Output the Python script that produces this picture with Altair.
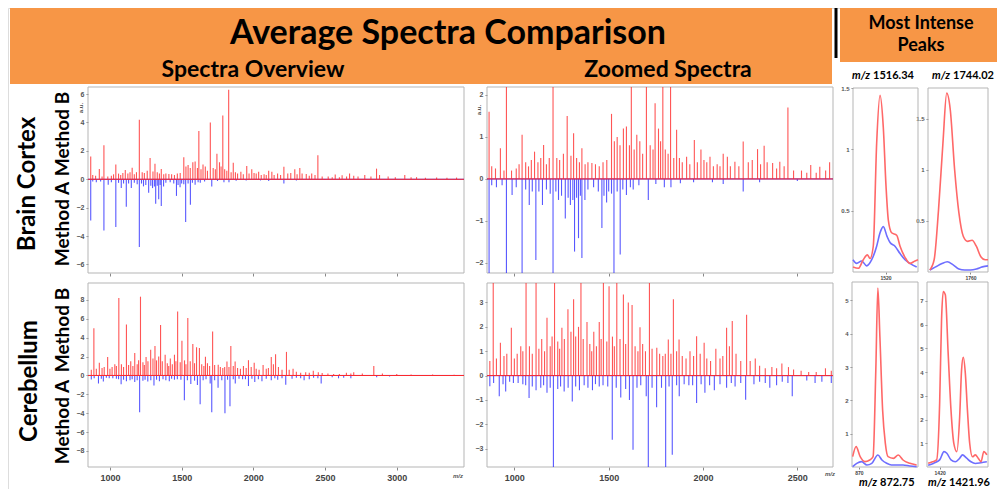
import altair as alt
import pandas as pd

# ---------------- texts ----------------
TITLE = "Average Spectra Comparison"
COL_TITLES = ["Spectra Overview", "Zoomed Spectra"]
PEAK_HEADER = ["Most Intense", "Peaks"]
ROWS = ["Brain Cortex", "Cerebellum"]
METHODS = ["Method B", "Method A"]
PEAK_LABELS = ["1516.34", "1744.02", "872.75", "1421.96"]

# ---------------- spectra (m/z, intensity a.u.) ----------------
# Brain Cortex - Method B (positive, red)
bc_b_mz = [866, 880, 900, 926, 945, 958, 985, 1010, 1025, 1041, 1060, 1075, 1090, 1107, 1125, 1140, 1155,
           1170, 1185, 1205, 1225, 1240, 1260, 1280, 1300, 1314, 1330, 1345, 1358, 1375, 1390, 1411, 1430,
           1450, 1470, 1490, 1515, 1530, 1545, 1560, 1578, 1594, 1610, 1620, 1635, 1649, 1665, 1680, 1700,
           1720, 1735, 1746, 1764, 1775, 1787, 1800, 1815, 1828, 1845, 1860, 1875, 1890, 1913, 1930, 1954,
           1970, 1989, 2005, 2020, 2037, 2055, 2075, 2090, 2107, 2129, 2145, 2169, 2190, 2213, 2240, 2261,
           2289, 2305, 2324, 2340, 2369, 2390, 2407, 2430, 2450, 2480, 2522, 2550, 2571, 2600, 2619, 2650,
           2671, 2700, 2730, 2777, 2820, 2859, 2880, 2940, 2990, 3056, 3100, 3138, 3200, 3278, 3350, 3417]
bc_b_int = [1.6, 0.3, 0.25, 0.73, 0.2, 2.4, 0.2, 0.25, 0.35, 1.05, 0.4, 0.3, 0.45, 0.65, 0.4, 0.5, 0.81,
            0.35, 0.5, 4.2, 0.5, 0.45, 0.6, 1.5, 0.55, 1.09, 0.5, 0.4, 0.73, 0.35, 0.4, 0.38, 0.35,
            0.3, 0.4, 0.45, 1.55, 0.9, 1.0, 0.8, 1.2, 1.25, 0.8, 3.4, 0.7, 1.05, 0.9, 0.6, 4.0,
            0.8, 0.7, 1.8, 1.2, 0.9, 4.5, 0.7, 0.6, 6.3, 0.5, 1.17, 0.5, 0.4, 0.53, 0.35, 0.93,
            0.4, 0.7, 0.45, 0.4, 0.53, 0.3, 0.35, 0.3, 0.6, 0.53, 0.3, 0.41, 0.3, 0.89, 0.4, 0.45,
            0.71, 0.35, 0.79, 0.4, 0.38, 0.25, 0.41, 0.3, 1.7, 0.2, 0.2, 0.15, 0.33, 0.15, 0.29, 0.2,
            0.4, 0.25, 0.2, 0.3, 0.2, 0.75, 0.3, 0.2, 0.15, 0.3, 0.15, 0.15, 0.1, 0.12, 0.1, 0.12]
# Brain Cortex - Method A (mirrored, blue)
bc_a_mz = [866, 880, 905, 935, 958, 988, 1010, 1041, 1060, 1079, 1095, 1114, 1130, 1149, 1170, 1190, 1205,
           1220, 1234, 1250, 1270, 1285, 1297, 1310, 1319, 1330, 1340, 1350, 1358, 1374, 1390, 1420, 1445,
           1464, 1475, 1489, 1500, 1515, 1528, 1545, 1561, 1575, 1594, 1615, 1630, 1660, 1710, 1750, 1795,
           1830, 1880, 1950, 2050, 2107, 2213, 2300, 2500]
bc_a_int = [-2.9, -0.15, -0.2, -0.15, -3.6, -0.38, -0.2, -3.36, -0.25, -0.62, -0.3, -1.93, -0.3, -0.62, -0.25,
            -0.35, -4.77, -0.3, -0.5, -0.4, -0.94, -0.45, -0.62, -0.5, -1.73, -0.45, -1.41, -0.4, -1.88, -0.5,
            -0.25, -0.2, -0.3, -1.17, -0.4, -0.56, -0.3, -0.35, -3.0, -0.3, -1.8, -0.25, -0.38, -0.2, -0.25,
            -0.15, -0.5, -0.12, -0.2, -0.2, -0.1, -0.08, -0.08, -0.12, -0.3, -0.08, -0.05]
# Cerebellum - Method B
cb_b_mz = [870, 888, 905, 926, 945, 960, 984, 1000, 1015, 1034, 1045, 1062, 1080, 1095, 1115, 1130, 1145,
           1160, 1173, 1190, 1200, 1213, 1230, 1240, 1252, 1265, 1284, 1300, 1314, 1325, 1340, 1353, 1365,
           1385, 1400, 1410, 1421, 1435, 1450, 1460, 1472, 1490, 1502, 1520, 1530, 1543, 1560, 1578, 1590,
           1604, 1624, 1640, 1655, 1666, 1680, 1695, 1716, 1730, 1755, 1770, 1787, 1800, 1816, 1830, 1843,
           1860, 1873, 1890, 1910, 1931, 1950, 1966, 1985, 2006, 2020, 2040, 2068, 2090, 2105, 2125, 2140,
           2155, 2175, 2200, 2231, 2250, 2277, 2300, 2330, 2365, 2390, 2418, 2453, 2480, 2520, 2560, 2600,
           2649, 2680, 2700, 2760, 2840, 2900, 3000, 3100, 3250, 3400]
cb_b_int = [0.6, 5.0, 0.7, 1.35, 0.8, 0.9, 1.96, 0.7, 0.9, 1.2, 1.0, 8.2, 1.2, 0.9, 5.4, 1.1, 1.5,
            1.0, 2.37, 1.2, 1.6, 8.35, 1.4, 1.1, 1.96, 1.5, 2.72, 1.8, 3.13, 1.6, 2.0, 5.35, 1.5,
            2.2, 1.3, 1.0, 1.8, 1.2, 2.2, 1.5, 6.77, 1.4, 3.67, 1.6, 1.2, 6.1, 1.5, 3.33, 1.3,
            3.0, 2.9, 1.2, 1.0, 1.98, 1.3, 1.0, 4.66, 1.1, 1.14, 0.9, 0.8, 0.9, 1.48, 0.9, 3.13,
            1.0, 1.48, 0.8, 0.7, 1.0, 0.8, 1.62, 0.9, 1.35, 0.7, 0.6, 1.1, 0.7, 0.8, 1.96, 1.2,
            2.24, 0.9, 0.6, 2.5, 0.6, 0.7, 0.4, 0.3, 0.35, 0.3, 0.5, 0.35, 0.25, 0.2, 0.15, 0.15,
            0.3, 0.2, 0.35, 0.2, 1.0, 0.2, 0.15, 0.1, 0.1, 0.08]
# Cerebellum - Method A
cb_a_mz = [870, 890, 920, 940, 954, 975, 995, 1020, 1045, 1060, 1078, 1095, 1115, 1140, 1155, 1173, 1190,
           1207, 1230, 1245, 1264, 1285, 1307, 1325, 1345, 1370, 1390, 1414, 1430, 1450, 1470, 1495, 1519,
           1540, 1564, 1590, 1610, 1629, 1650, 1670, 1699, 1710, 1730, 1754, 1780, 1802, 1820, 1837, 1860,
           1874, 1900, 1925, 1945, 1966, 1990, 2010, 2035, 2060, 2090, 2125, 2150, 2170, 2200, 2226, 2270,
           2300, 2330, 2354, 2390, 2420, 2450, 2473, 2550, 2594, 2630, 2680, 2860, 2950]
cb_a_int = [-0.44, -0.3, -0.85, -0.35, -0.65, -0.25, -0.3, -0.3, -0.35, -0.4, -0.92, -0.45, -0.6, -0.5, -0.4,
            -0.7, -0.5, -3.9, -0.55, -0.45, -0.65, -0.5, -1.06, -0.45, -0.6, -0.4, -0.5, -0.6, -0.35, -0.45,
            -0.4, -0.45, -2.63, -0.5, -0.9, -0.55, -1.0, -3.04, -0.5, -0.4, -0.85, -3.9, -0.5, -1.3, -0.5,
            -4.0, -0.45, -3.25, -0.4, -0.85, -0.35, -0.4, -0.4, -1.12, -0.35, -0.7, -0.4, -0.6, -0.35, -0.5,
            -0.3, -0.45, -0.3, -0.99, -0.35, -0.25, -0.3, -0.5, -0.4, -0.25, -0.3, -0.85, -0.2, -0.3, -0.25,
            -0.3, -0.2, -0.1]

# ---------------- most intense peaks (profiles) ----------------
p1_b_mz = [1495, 1499.1, 1502.9, 1506, 1508.1, 1510.6, 1513.2, 1515.8, 1518.3, 1520.4, 1522.2, 1524.7, 1528.6,
           1531.2, 1535, 1538.8, 1542.7, 1545]
p1_b_int = [0.04, 0.03, 0.10, 0.14, 0.11, 0.21, 1.05, 1.44, 1.18, 0.70, 0.42, 0.32, 0.30, 0.21, 0.12, 0.07, 0.09, 0.10]
p1_a_mz = [1495, 1497.8, 1501.7, 1505.5, 1509.4, 1513.2, 1515.8, 1518.3, 1521.2, 1523.5, 1527.3, 1531.2, 1535,
           1538.8, 1544]
p1_a_int = [0.10, 0.07, 0.09, 0.05, 0.10, 0.21, 0.32, 0.37, 0.29, 0.24, 0.21, 0.15, 0.10, 0.07, 0.04]

p2_b_mz = [1732.2, 1735.2, 1738.2, 1741.2, 1743.8, 1746.2, 1749.2, 1752.1, 1755.1, 1758.1, 1761.1, 1764.1,
           1767.1, 1770.1, 1772]
p2_b_int = [0.02, 0.12, 0.61, 1.26, 1.75, 1.59, 1.0, 0.58, 0.35, 0.30, 0.31, 0.25, 0.15, 0.12, 0.12]
p2_a_mz = [1732.2, 1736.2, 1740.2, 1744.2, 1748.2, 1752.1, 1756.1, 1760.1, 1764.1, 1768.1, 1772]
p2_a_int = [0.02, 0.05, 0.08, 0.10, 0.07, 0.03, 0.02, 0.02, 0.03, 0.05, 0.06]

p3_b_mz = [869.1, 869.6, 870.2, 870.9, 871.6, 872.1, 872.5, 872.8, 873.1, 873.5, 873.9, 874.3, 875.1, 875.8,
           876.5, 877.5, 878.5]
p3_b_int = [0.31, 0.61, 0.31, 0.16, 0.21, 0.31, 2.91, 5.37, 3.91, 1.71, 0.71, 0.31, 0.26, 0.36, 0.21, 0.11, 0.06]
p3_a_mz = [869.1, 869.7, 870.4, 871.2, 871.9, 872.8, 873.4, 874.1, 874.8, 875.6, 876.5, 877.5, 878.5]
p3_a_int = [0.01, 0.11, 0.16, 0.06, 0.11, 0.36, 0.21, 0.11, 0.06, 0.06, 0.06, 0.03, 0.01]

p4_b_mz = [1413.9, 1416.2, 1418.4, 1420, 1421, 1421.9, 1423, 1424.5, 1426, 1427.5, 1429.1, 1430.6, 1431.6,
           1432.5, 1433.6, 1434.7, 1435.9, 1437.4, 1438.9, 1440.4, 1441.9, 1443.4, 1445]
p4_b_int = [0.16, 0.22, 0.30, 2.69, 6.2, 7.4, 7.26, 4.8, 2.41, 1.0, 0.65, 2.12, 4.09, 4.63, 3.95, 2.41, 1.0,
            0.43, 0.51, 0.37, 0.22, 0.65, 0.51]
p4_a_mz = [1413.9, 1416.9, 1420, 1422.3, 1423.8, 1426, 1428.3, 1430.6, 1432.1, 1434.3, 1436.6, 1438.9,
           1441.9, 1445]
p4_a_int = [0.07, 0.16, 0.3, 0.65, 0.58, 0.3, 0.22, 0.37, 0.51, 0.37, 0.22, 0.15, 0.18, 0.22]

# ---------------- layout helpers ----------------
OFF = 8            # page margin
W, H = 989, 481
ORANGE = "#F79646"
RED = "#FF2A2A"
BLUE = "#2E2EFF"
PRED = "#FF6868"
PBLUE = "#6E6EFF"
TICK_FONT = "Liberation Sans"
HEAD_FONT = "Lato"
ONE = pd.DataFrame({"k": [0]})


def sx(dom, left, right):
    return alt.Scale(domain=dom, range=[left - OFF, right - OFF], nice=False, zero=False)


def sy(dom, top, bottom):
    return alt.Scale(domain=dom, range=[bottom - OFF, top - OFF], nice=False, zero=False, clamp=True)


def yaxis(left, values, size=7):
    return alt.Axis(orient="left", offset=-(left - OFF), values=values, format="~g", title=None,
                    grid=False, domain=False, tickSize=2, tickColor="#888888", labelFontSize=size,
                    labelColor="#555555", labelFont=TICK_FONT, labelFontWeight="bold", labelPadding=2)


def xaxis(bottom, values, labels=True, size=9, pad=3, tick=3):
    return alt.Axis(orient="bottom", offset=(bottom - OFF) - H, values=values, format="d", title=None,
                    grid=False, domain=False, labels=labels, tickSize=tick, tickColor="#888888",
                    labelFontSize=size, labelColor="#444444", labelFont=TICK_FONT,
                    labelFontWeight="bold", labelPadding=pad, labelFlush=False)


def frame(xdom, ydom, xsc, ysc, xax, yax):
    return alt.Chart(ONE).mark_rect(fill="white", fillOpacity=0, stroke="#B5B5B5", strokeWidth=1).encode(
        x=alt.XDatum(xdom[0], type="quantitative", scale=xsc, axis=xax),
        x2=alt.X2Datum(xdom[1]),
        y=alt.YDatum(ydom[0], type="quantitative", scale=ysc, axis=yax),
        y2=alt.Y2Datum(ydom[1]),
    )


def baseline(xdom, color, xsc, ysc, xax, yax):
    return alt.Chart(ONE).mark_rule(color=color, strokeWidth=1).encode(
        x=alt.XDatum(xdom[0], type="quantitative", scale=xsc, axis=xax),
        x2=alt.X2Datum(xdom[1]),
        y=alt.YDatum(0, type="quantitative", scale=ysc, axis=yax),
    )


def sticks(mz, inten, color, xsc, ysc, xdom, xax, yax):
    df = pd.DataFrame({"mz": mz, "i": inten})
    df = df[(df.mz >= xdom[0]) & (df.mz <= xdom[1])]
    return alt.Chart(df).mark_rule(color=color, strokeWidth=1.1, opacity=0.8).encode(
        x=alt.X("mz:Q", scale=xsc, axis=xax),
        y=alt.Y("i:Q", scale=ysc, axis=yax),
        y2=alt.Y2Datum(0),
    )


def spectrum_panel(bmz, bint, amz, aint, xdom, ydom, box_, xvals, yvals, xlabels):
    left, top, right, bottom = box_
    xsc, ysc = sx(xdom, left, right), sy(ydom, top, bottom)
    xax, yax = xaxis(bottom, xvals, labels=xlabels), yaxis(left, yvals)
    return alt.layer(
        frame(xdom, ydom, xsc, ysc, xax, yax),
        baseline(xdom, BLUE, xsc, ysc, xax, yax),
        sticks(amz, aint, BLUE, xsc, ysc, xdom, xax, yax),
        sticks(bmz, bint, RED, xsc, ysc, xdom, xax, yax),
        baseline(xdom, RED, xsc, ysc, xax, yax),
    )


def peak_panel(bmz, bint, amz, aint, xdom, ydom, box_, xvals, yvals, xsize):
    left, top, right, bottom = box_
    xsc, ysc = sx(xdom, left, right), sy(ydom, top, bottom)
    xax, yax = xaxis(bottom, xvals, size=xsize, pad=1, tick=2), yaxis(left, yvals, size=6)
    red = alt.Chart(pd.DataFrame({"mz": bmz, "i": bint})).mark_line(
        color=PRED, strokeWidth=1.6, interpolate="monotone").encode(
        x=alt.X("mz:Q", scale=xsc, axis=xax), y=alt.Y("i:Q", scale=ysc, axis=yax))
    blue = alt.Chart(pd.DataFrame({"mz": amz, "i": aint})).mark_line(
        color=PBLUE, strokeWidth=1.6, interpolate="monotone").encode(
        x=alt.X("mz:Q", scale=xsc, axis=xax), y=alt.Y("i:Q", scale=ysc, axis=yax))
    return alt.layer(frame(xdom, ydom, xsc, ysc, xax, yax), blue, red)


def label(text, x, y, size, angle=0, font=HEAD_FONT, color="black", align="center",
          baseline_="middle", italic=False, weight="bold"):
    kw = dict(font=font, fontSize=size, fontWeight=weight, color=color, align=align,
              baseline=baseline_, angle=angle)
    if italic:
        kw["fontStyle"] = "italic"
    return alt.Chart(pd.DataFrame({"t": [text]})).mark_text(**kw).encode(
        x=alt.value(x - OFF), y=alt.value(y - OFF), text="t:N")


def box(x1, y1, x2, y2, color):
    return alt.Chart(ONE).mark_rect(color=color).encode(
        x=alt.value(x1 - OFF), x2=alt.value(x2 - OFF), y=alt.value(y1 - OFF), y2=alt.value(y2 - OFF))


# ---------------- panels ----------------
OV_X = [847, 3469]
ZM_X = [855, 2689]
ov_ticks = [1000, 1500, 2000, 2500, 3000]
zm_ticks = [1000, 1500, 2000, 2500]

panels = [
    spectrum_panel(bc_b_mz, bc_b_int, bc_a_mz, bc_a_int, OV_X, [-6.6, 6.5], (88, 87, 464, 273),
                   ov_ticks, [-6, -4, -2, 0, 2, 4, 6], False),
    spectrum_panel(cb_b_mz, cb_b_int, cb_a_mz, cb_a_int, OV_X, [-9.7, 9.8], (88, 283, 464, 467),
                   ov_ticks, [-8, -6, -4, -2, 0, 2, 4, 6, 8], True),
    spectrum_panel(bc_b_mz, bc_b_int, bc_a_mz, bc_a_int, ZM_X, [-2.24, 2.19], (487, 87, 833, 273),
                   zm_ticks, [-2, -1, 0, 1, 2], False),
    spectrum_panel(cb_b_mz, cb_b_int, cb_a_mz, cb_a_int, ZM_X, [-3.75, 3.8], (487, 283, 833, 467),
                   zm_ticks, [-3, -2, -1, 0, 1, 2, 3], True),
    peak_panel(p1_b_mz, p1_b_int, p1_a_mz, p1_a_int, [1495, 1545], [0, 1.5], (853, 88, 918, 272),
               [1520], [0.5, 1, 1.5], 5),
    peak_panel(p2_b_mz, p2_b_int, p2_a_mz, p2_a_int, [1731, 1772], [0, 1.8], (928, 88, 988, 272),
               [1760], [0.5, 1, 1.5], 5),
    peak_panel(p3_b_mz, p3_b_int, p3_a_mz, p3_a_int, [869, 878.7], [0, 5.55], (852, 282, 918, 467),
               [870], [1, 2, 3, 4, 5], 5),
    peak_panel(p4_b_mz, p4_b_int, p4_a_mz, p4_a_int, [1413.3, 1445.6], [0, 7.8], (927, 282, 988, 467),
               [1420], [1, 2, 3, 4, 5, 6, 7], 5),
]

decor_back = [
    box(10, 0, 832, 84, ORANGE),
    box(840, 0, 1005, 62, ORANGE),
    alt.Chart(ONE).mark_rule(color="black", strokeWidth=3).encode(
        x=alt.value(836 - OFF), y=alt.value(0), y2=alt.value(58 - OFF)),
]

texts = [
    label(TITLE, 448, 34, 34),
    label(COL_TITLES[0], 253, 70, 23),
    label(COL_TITLES[1], 668, 70, 23),
    label(PEAK_HEADER[0], 921, 24, 18),
    label(PEAK_HEADER[1], 921, 46, 18),
    label(ROWS[0], 28, 184, 24, angle=270),
    label(METHODS[0], 63, 134, 19, angle=270),
    label(METHODS[1], 63, 224, 19, angle=270),
    label(ROWS[1], 30, 381, 24, angle=270),
    label(METHODS[0], 63, 330, 19, angle=270),
    label(METHODS[1], 63, 422, 19, angle=270),
    # peak titles
    label("m/z", 870, 76, 11, align="right", italic=True),
    label(PEAK_LABELS[0], 873, 76, 11, align="left"),
    label("m/z", 950, 76, 11, align="right", italic=True),
    label(PEAK_LABELS[1], 953, 76, 11, align="left"),
    label("m/z", 877, 483, 11, align="right", italic=True),
    label(PEAK_LABELS[2], 880, 483, 11, align="left"),
    label("m/z", 946, 483, 11, align="right", italic=True),
    label(PEAK_LABELS[3], 949, 483, 11, align="left"),
    # small axis annotations
    label("a.u.", 81, 108, 6, angle=270, font=TICK_FONT, color="#555555"),
    label("a.u.", 479, 110, 6, angle=270, font=TICK_FONT, color="#555555"),
    label("m/z", 458, 476, 6, font=TICK_FONT, color="#555555", italic=True),
    label("m/z", 830, 474, 6, font=TICK_FONT, color="#555555", italic=True),
]

chart = alt.layer(*decor_back, *panels, *texts).resolve_scale(
    x="independent", y="independent"
).properties(
    width=W, height=H, padding=0, autosize=alt.AutoSizeParams(type="none")
).configure_view(strokeWidth=0).configure(background="white")

chart.save("out.html", embed_options={"renderer": "svg", "actions": False})
